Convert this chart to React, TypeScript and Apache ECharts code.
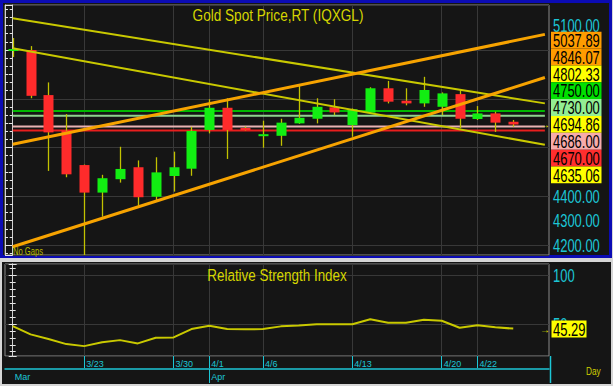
import React, { useEffect, useRef } from "react";
import * as echarts from "echarts";

// ---------- data ----------
const dates = ["3/17","3/18","3/19","3/20","3/23","3/24","3/25","3/26","3/27","3/30","3/31","4/1","4/2","4/3","4/6","4/7","4/8","4/9","4/10","4/13","4/14","4/15","4/16","4/17","4/20","4/21","4/22","4/23","4/24"];
const opens = [4998,5000,4815,4669,4528,4415,4470,4519,4398,4483,4513,4672,4763,4679,4648,4648,4699,4718,4765,4692,4743,4843,4792,4781,4767,4819,4717,4740,4706];
const highs = [5049,5016,4867,4737,4530,4488,4603,4547,4560,4583,4685,4798,4802,4686,4710,4718,4852,4802,4798,4760,4847,4873,4843,4890,4826,4836,4770,4747,4713];
const lows = [4971,4802,4504,4478,4150,4316,4456,4361,4385,4419,4484,4658,4553,4670,4599,4607,4697,4699,4733,4644,4740,4781,4773,4767,4733,4679,4713,4664,4685];
const closes = [5002,4812,4662,4490,4415,4474,4512,4396,4498,4519,4668,4763,4672,4673,4653,4702,4722,4767,4744,4757,4843,4788,4781,4836,4822,4718,4740,4702,4694.86];
const rsiValues = [47.9,39.3,34.5,29.3,27.2,31.1,33.4,30.0,35.8,36.2,44.8,48.2,44.8,44.5,44.8,47.6,48.6,49.7,49.7,49.7,54.9,51.3,51.3,54.4,53.4,46.2,48.7,46.6,45.29];

const dateTickIdx = [4, 9, 11, 14, 19, 24, 26];
const dateTickLabels = ["3/23", "3/30", "4/1", "4/6", "4/13", "4/20", "4/22"];
const monthLabelIdx = [0, 11];
const monthLabels = ["Mar", "Apr"];
const monthTickIdx = [11];

const priceLabelValues = [5100, 4400, 4300, 4200];
const rsiLabelValues = [100, 50];

// trend lines: value at first bar and at right end of the drawing
const trendX = [0, 29.77];
const trendStart = [5130, 5007, 4613, 4193];
const trendEnd = [4781, 4611, 5064, 4887];

const levelValues = [4750, 4730, 4686, 4670];
const tagValues = [5037.89, 4846.07, 4802.33, 4750.0, 4730.0, 4694.86, 4686.0, 4670.0, 4635.06];

const mainTitle = "Gold Spot Price,RT (IQXGL)";
const rsiTitle = "Relative Strength Index";

// ---------- styles ----------
const X_MIN = -0.43, X_MAX = 30;
const Y_MIN = 4159, Y_MAX = 5184.6;
const R_MIN = 17, R_MAX = 112;
const FONT = "'Liberation Sans', Arial, sans-serif";
const GRID_C = "#383838";
const TICK_C = "#e6e6e6";
const CYAN = "#1cc6d6";
const TITLE_C = "#d6d600";
const WICK = "#c2c200";
const UP = "#12ee12";
const DOWN = "#ff2b2b";
const trendColors = ["#c9c900", "#c9c900", "#f7a300", "#f7a300"];
const trendWidths = [2, 2, 3, 3];
const levelColors = ["#00b800", "#8fd48f", "#e9b3b3", "#e81e1e"];
const tagColors = ["#ff9c00", "#ff9c00", "#ffff00", "#00e000", "#93ee93", "#ffff00", "#f7abab", "#ff2e2e", "#ffff00"];

function buildOption(): any {
  const candleData = dates.map((_, i) => [i, opens[i], closes[i], lows[i], highs[i]]);
  const series: any[] = [];

  levelValues.forEach((v, k) => {
    series.push({
      type: "line", xAxisIndex: 0, yAxisIndex: 0, z: 2, silent: true,
      symbol: "none", data: [[trendX[0], v], [trendX[1], v]],
      lineStyle: { color: levelColors[k], width: 2 },
    });
  });

  series.push({
    type: "custom", xAxisIndex: 0, yAxisIndex: 0, z: 3, clip: true, silent: true,
    encode: { x: 0, y: [1, 2, 3, 4] },
    data: candleData,
    renderItem: (params: any, api: any) => {
      const i = api.value(0);
      const o = api.value(1), c = api.value(2), l = api.value(3), h = api.value(4);
      const pO = api.coord([i, o]), pC = api.coord([i, c]);
      const pL = api.coord([i, l]), pH = api.coord([i, h]);
      const x = Math.round(pO[0]) + 0.5;
      const w = api.size([1, 0])[0] * 0.56;
      let top = Math.min(pO[1], pC[1]);
      let bh = Math.abs(pO[1] - pC[1]);
      if (bh < 2) { top = (pO[1] + pC[1]) / 2 - 1; bh = 2; }
      const up = c >= o;
      return {
        type: "group",
        children: [
          { type: "line", shape: { x1: x, y1: pH[1], x2: x, y2: pL[1] }, style: { stroke: WICK, lineWidth: 1.3 } },
          { type: "rect", shape: { x: x - w / 2, y: top, width: w, height: bh }, style: { fill: up ? UP : DOWN } },
        ],
      };
    },
  });

  trendStart.forEach((s, k) => {
    series.push({
      type: "line", xAxisIndex: 0, yAxisIndex: 0, z: 4, silent: true,
      symbol: "none", data: [[trendX[0], s], [trendX[1], trendEnd[k]]],
      lineStyle: { color: trendColors[k], width: trendWidths[k] },
    });
  });

  series.push({
    type: "line", xAxisIndex: 1, yAxisIndex: 2, z: 3, silent: true,
    symbol: "none", data: rsiValues.map((v, i) => [i, v]),
    lineStyle: { color: "#c9c900", width: 2 },
  });

  const tickStyle = { lineStyle: { color: TICK_C, width: 1 } };

  return {
    animation: false,
    backgroundColor: "transparent",
    grid: [
      { left: 5, top: 5, right: 64, bottom: 131, show: true, borderColor: "#8a8a8a", borderWidth: 1, backgroundColor: "transparent" },
      { left: 5, top: 264, right: 64, bottom: 30, show: true, borderColor: "#8a8a8a", borderWidth: 1, backgroundColor: "transparent" },
    ],
    xAxis: [
      {
        gridIndex: 0, type: "value", min: X_MIN, max: X_MAX,
        axisLine: { show: false }, axisLabel: { show: false },
        axisTick: { show: false, customValues: dateTickIdx },
        splitLine: { show: true, lineStyle: { color: GRID_C, width: 1 } },
      },
      {
        gridIndex: 1, type: "value", min: X_MIN, max: X_MAX, position: "bottom",
        axisLine: { show: false },
        axisTick: { show: true, customValues: dateTickIdx, length: 12, lineStyle: { color: CYAN, width: 1 } },
        axisLabel: {
          show: true, customValues: dateTickIdx, margin: 3, align: "left", verticalAlign: "top",
          padding: [0, 0, 0, 2], color: CYAN, fontSize: 9, fontFamily: FONT,
          formatter: (v: number) => dateTickLabels[dateTickIdx.indexOf(v)] ?? "",
        },
        splitLine: { show: true, lineStyle: { color: GRID_C, width: 1 } },
      },
      {
        gridIndex: 1, type: "value", min: X_MIN, max: X_MAX, position: "bottom", offset: 13,
        axisLine: { show: true, lineStyle: { color: CYAN, width: 1.5 } },
        axisTick: { show: true, customValues: monthTickIdx, length: 14, lineStyle: { color: CYAN, width: 1 } },
        axisLabel: {
          show: true, customValues: monthLabelIdx, margin: 3, align: "left", verticalAlign: "top",
          padding: [0, 0, 0, 2], color: CYAN, fontSize: 9, fontFamily: FONT,
          formatter: (v: number) => monthLabels[monthLabelIdx.indexOf(v)] ?? "",
        },
        splitLine: { show: false },
      },
    ],
    yAxis: [
      {
        gridIndex: 0, type: "value", position: "right", min: Y_MIN, max: Y_MAX,
        splitNumber: 10, minInterval: 100, maxInterval: 100,
        axisLine: { show: true, lineStyle: { color: "#cfcfcf", width: 1 } },
        axisTick: { show: true, inside: true, length: 4, ...tickStyle },
        minorTick: { show: true, splitNumber: 3, length: 3, ...tickStyle },
        axisLabel: { show: false }, splitLine: { show: false },
      },
      {
        gridIndex: 0, type: "value", position: "left", min: Y_MIN, max: Y_MAX,
        splitNumber: 5, minInterval: 200, maxInterval: 200,
        axisLine: { show: true, lineStyle: { color: "#cfcfcf", width: 1 } },
        axisTick: { show: true, inside: true, length: 4, ...tickStyle },
        minorTick: { show: true, splitNumber: 6, length: 3, ...tickStyle },
        axisLabel: { show: false },
        splitLine: { show: true, lineStyle: { color: GRID_C, width: 1 } },
      },
      {
        gridIndex: 1, type: "value", position: "right", min: R_MIN, max: R_MAX,
        splitNumber: 2, minInterval: 50, maxInterval: 50,
        axisLine: { show: true, lineStyle: { color: "#cfcfcf", width: 1 } },
        axisTick: { show: true, inside: true, length: 4, ...tickStyle },
        minorTick: { show: true, splitNumber: 7, length: 3, ...tickStyle },
        axisLabel: { show: false },
        splitLine: { show: true, lineStyle: { color: GRID_C, width: 1 } },
      },
      {
        gridIndex: 1, type: "value", position: "left", min: R_MIN, max: R_MAX,
        splitNumber: 2, minInterval: 50, maxInterval: 50,
        axisLine: { show: true, lineStyle: { color: "#cfcfcf", width: 1 } },
        axisTick: { show: true, inside: true, length: 4, ...tickStyle },
        minorTick: { show: true, splitNumber: 7, length: 3, ...tickStyle },
        axisLabel: { show: false }, splitLine: { show: false },
      },
    ],
    series,
  };
}

function txt(id: string, text: string, x: number, y: number, size: number, fill: string, scaleX: number, align: string, z = 50): any {
  return {
    type: "text", id, x, y, scaleX, z, silent: true,
    style: {
      text, x: 0, y: 0, fill, font: `${size}px ${FONT}`,
      textAlign: align, align, textVerticalAlign: "middle", verticalAlign: "middle",
    },
  };
}

function buildGraphic(chart: any): any[] {
  const py = (v: number) => chart.convertToPixel({ yAxisIndex: 0 }, v) as number;
  const ry = (v: number) => chart.convertToPixel({ yAxisIndex: 2 }, v) as number;
  const els: any[] = [];

  els.push(txt("title", mainTitle, 278, 14.5, 17, TITLE_C, 0.8, "center"));
  els.push(txt("rsiTitle", rsiTitle, 277, 275, 17, TITLE_C, 0.79, "center"));
  els.push(txt("nogaps", "No Gaps", 13, 252, 10, "#b9b900", 0.76, "left"));
  els.push(txt("day", "Day", 586, 371, 11, "#cfcf00", 0.75, "left"));

  // right-axis value labels
  priceLabelValues.forEach((v, k) => {
    els.push(txt("pl" + k, v.toFixed(2), 553, py(v) + 0.5, 18, CYAN, 0.72, "left", 40));
  });
  rsiLabelValues.forEach((v, k) => {
    els.push(txt("rl" + k, String(v), 553, ry(v) + 0.5, 18, CYAN, 0.72, "left", 40));
  });

  // stacked price tags, anchored at last close
  const last = closes[closes.length - 1];
  const anchorIdx = tagValues.indexOf(last);
  const anchorY = py(last);
  const TAG_H = 16.85;
  tagValues.forEach((v, k) => {
    const cy = anchorY + (k - anchorIdx) * TAG_H;
    els.push({
      type: "rect", id: "tr" + k, z: 60, silent: true,
      shape: { x: 551, y: cy - TAG_H / 2, width: 50.5, height: TAG_H },
      style: { fill: tagColors[k] },
    });
    els.push(txt("tt" + k, v.toFixed(2), 553, cy + 0.5, 18, "#000000", 0.72, "left", 61));
  });
  els.push(txt("arrowMain", "→", 540, anchorY, 10, "#e6e600", 1, "left", 55));

  // RSI last value tag
  const lastRsi = rsiValues[rsiValues.length - 1];
  const rcy = ry(lastRsi) + 0.5;
  els.push({
    type: "rect", id: "rsiTag", z: 60, silent: true,
    shape: { x: 551.5, y: rcy - 8.5, width: 35, height: 17 },
    style: { fill: "#ffff00" },
  });
  els.push(txt("rsiTagT", lastRsi.toFixed(2), 553, rcy + 0.5, 18, "#000000", 0.72, "left", 61));
  els.push(txt("arrowRsi", "→", 540, rcy, 10, "#e6e600", 1, "left", 55));

  // decorative frame of the date band
  els.push({
    type: "line", id: "bandRight", z: 30, silent: true,
    shape: { x1: 550.5, y1: 356, x2: 550.5, y2: 383 },
    style: { stroke: CYAN, lineWidth: 1.5 },
  });
  return els;
}

export default function App() {
  const ref = useRef<HTMLDivElement>(null);
  useEffect(() => {
    const el = ref.current;
    if (!el) return;
    const chart = echarts.init(el, null, { renderer: "svg" });
    chart.setOption(buildOption());
    chart.setOption({ graphic: buildGraphic(chart) });
    return () => chart.dispose();
  }, []);
  return (
    <div style={{ position: "fixed", left: 0, top: 0, width: 613, height: 386, background: "#d6d6d6", overflow: "hidden" }}>
      <div style={{ position: "absolute", left: 0, top: 0, width: 612, height: 258, background: "#151515", border: "3px solid #0b0bb4", boxSizing: "border-box" }} />
      <div style={{ position: "absolute", left: 2, top: 262, width: 609, height: 122, background: "#151515" }} />
      <div ref={ref} style={{ position: "absolute", left: 0, top: 0, width: 613, height: 386 }} />
    </div>
  );
}
